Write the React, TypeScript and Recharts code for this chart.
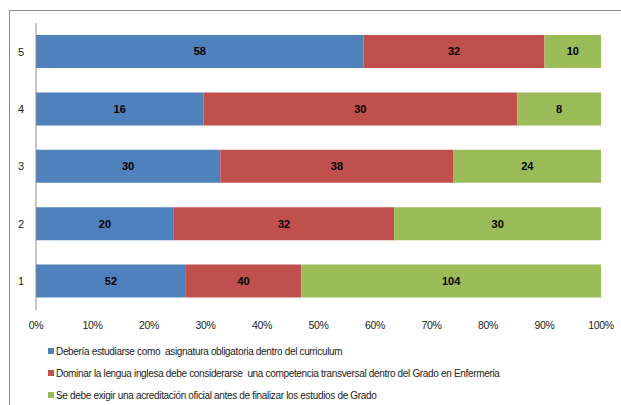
import React from "react";
import { BarChart, Bar, XAxis, YAxis, LabelList } from "recharts";

const categories = ["5", "4", "3", "2", "1"];
const seriesA = [58, 16, 30, 20, 52];
const seriesB = [32, 30, 38, 32, 40];
const seriesC = [10, 8, 24, 30, 104];
const seriesNames = [
  "Debería estudiarse como  asignatura obligatoria dentro del curriculum",
  "Dominar la lengua inglesa debe considerarse  una competencia transversal dentro del Grado en Enfermeria",
  "Se debe exigir una acreditación oficial antes de finalizar los estudios de Grado",
];
const colors = ["#4F81BD", "#C0504D", "#9BBB59"];
const xTicks = [0, 0.1, 0.2, 0.3, 0.4, 0.5, 0.6, 0.7, 0.8, 0.9, 1];

const data = categories.map((c, i) => ({
  name: c,
  a: seriesA[i],
  b: seriesB[i],
  c: seriesC[i],
}));

const FONT = "'Liberation Sans', Arial, sans-serif";
const keys = ["a", "b", "c"];

export default function App() {
  return (
    <div
      style={{
        position: "fixed",
        left: 0,
        top: 0,
        width: 621,
        height: 405,
        background: "#fff",
        overflow: "hidden",
        fontFamily: FONT,
      }}
    >
      <div
        style={{
          position: "absolute",
          left: 9,
          top: 10,
          width: 640,
          height: 420,
          borderLeft: "1px solid #8c8c8c",
          borderTop: "1px solid #8c8c8c",
        }}
      />
      <div style={{ position: "absolute", left: 0, top: 0 }}>
        <BarChart
          width={621}
          height={405}
          data={data}
          layout="vertical"
          stackOffset="expand"
          barSize={33}
          margin={{ top: 23, right: 20, left: 0, bottom: 0 }}
        >
          <XAxis
            type="number"
            domain={[0, 1]}
            ticks={xTicks}
            tickFormatter={(v: number) => `${Math.round(v * 100)}%`}
            axisLine={false}
            tickLine={false}
            tickMargin={6}
            height={95}
            interval={0}
            tick={{ fontSize: 10.5, fill: "#222", fontFamily: FONT, letterSpacing: -0.3 }}
          />
          <YAxis
            type="category"
            dataKey="name"
            width={36}
            axisLine={{ stroke: "#8c8c8c" }}
            tickLine={false}
            tickMargin={6}
            tick={{ fontSize: 11, fill: "#222", fontFamily: FONT }}
          />
          {keys.map((k, i) => (
            <Bar
              key={k}
              dataKey={k}
              stackId="s"
              fill={colors[i]}
              name={seriesNames[i]}
              isAnimationActive={false}
            >
              <LabelList
                dataKey={k}
                position="center"
                style={{ fontSize: 11, fontWeight: "bold", fill: "#000", fontFamily: FONT }}
              />
            </Bar>
          ))}
        </BarChart>
      </div>
      {seriesNames.map((n, i) => (
        <div
          key={n}
          style={{
            position: "absolute",
            left: 48,
            top: 344 + i * 22,
            height: 14,
            display: "flex",
            alignItems: "center",
            fontSize: 10,
            letterSpacing: -0.33,
            color: "#222",
            whiteSpace: "pre",
          }}
        >
          <span
            style={{
              display: "inline-block",
              width: 6,
              height: 6,
              background: colors[i],
              marginRight: 2,
            }}
          />
          {n}
        </div>
      ))}
    </div>
  );
}
